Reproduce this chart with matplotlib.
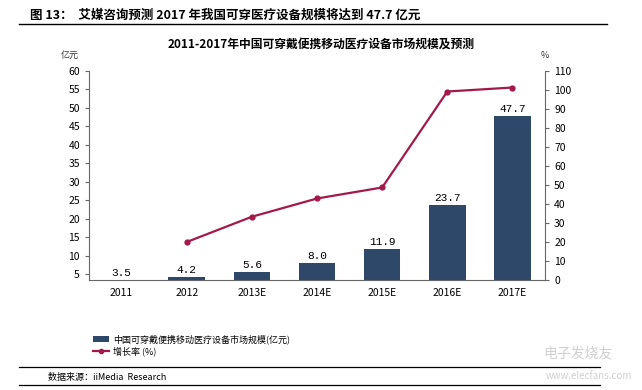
import numpy as np
import matplotlib.pyplot as plt
from matplotlib.lines import Line2D
from matplotlib.patches import Patch

plt.rcParams['font.family'] = ['Noto Sans CJK SC', 'DejaVu Sans']

years = ['2011', '2012', '2013E', '2014E', '2015E', '2016E', '2017E']
market = [3.5, 4.2, 5.6, 8.0, 11.9, 23.7, 47.7]
growth = [None, 20.0, 33.3, 42.9, 48.7, 99.2, 101.3]

bar_color = '#2e4869'
line_color = '#a3194b'

fig = plt.figure(figsize=(6.42, 3.90), dpi=100)
ax = fig.add_axes([0.1386, 0.282, 0.7104, 0.536])
x = np.arange(len(years))
ax.bar(x, market, width=0.56, color=bar_color, zorder=2)
for xi, v in zip(x, market):
    ax.text(xi, v + 0.6, f'{v:.1f}', ha='center', va='bottom', fontsize=8,
            family=['Liberation Mono', 'DejaVu Sans'])
ax.set_ylim(3.5, 60)
ax.set_yticks(range(5, 61, 5))
ax.set_xlim(-0.5, 6.5)
ax.set_xticks(x)
ax.set_xticklabels(years)
ax.tick_params(labelsize=7.5, length=3, color='#666666', width=0.8)
ax.tick_params(axis='x', length=0, pad=6)
for s in ['top', 'right']:
    ax.spines[s].set_visible(False)
for s in ['left', 'bottom']:
    ax.spines[s].set_color('#666666')

ax2 = ax.twinx()
gx = [xi for xi, g in zip(x, growth) if g is not None]
gy = [g for g in growth if g is not None]
ax2.plot(gx, gy, color=line_color, lw=1.6, marker='o', markersize=3.5, zorder=3)
ax2.set_ylim(0, 110)
ax2.set_yticks(range(0, 111, 10))
ax2.tick_params(labelsize=7.5, length=3, color='#666666', width=0.8)
for s in ['top', 'left', 'bottom']:
    ax2.spines[s].set_visible(False)
ax2.spines['right'].set_color('#666666')

# titles and units
fig.text(0.047, 0.962, '图 13：  艾媒咨询预测 2017 年我国可穿医疗设备规模将达到 47.7 亿元',
         fontsize=9, fontweight='bold', va='center')
fig.add_artist(Line2D([0.03, 0.945], [0.938, 0.938], color='black', lw=1))
fig.text(0.5, 0.886, '2011-2017年中国可穿戴便携移动医疗设备市场规模及预测',
         fontsize=8.5, fontweight='bold', ha='center', va='center')
fig.text(0.095, 0.858, '亿元', fontsize=6.5, ha='left', va='center', color='#333333')
fig.text(0.849, 0.858, '%', fontsize=6.5, ha='center', va='center', color='#333333')

handles = [Patch(facecolor=bar_color, edgecolor='none'),
           Line2D([0], [0], color=line_color, lw=1.6, marker='o', markersize=3)]
labels = ['中国可穿戴便携移动医疗设备市场规模(亿元)', '增长率 (%)']
fig.legend(handles, labels, loc='upper left', bbox_to_anchor=(0.135, 0.16 + 0.0),
           bbox_transform=fig.transFigure, frameon=False, fontsize=6.5,
           handlelength=1.8, handletextpad=0.4, labelspacing=0.3, borderpad=0)
fig.legends[0].set_bbox_to_anchor((0.138, 0.155), transform=fig.transFigure)

fig.add_artist(Line2D([0.03, 0.935], [0.059, 0.059], color='black', lw=0.9))
fig.text(0.075, 0.031, '数据来源：iiMedia  Research', fontsize=6.5, va='center')
fig.add_artist(Line2D([0.03, 0.935], [0.013, 0.013], color='black', lw=0.9))

# watermark
fig.text(0.955, 0.095, '电子发烧友', fontsize=10, ha='right', va='center', color='#d0d0d0')
fig.text(0.985, 0.035, 'www.elecfans.com', fontsize=7, ha='right', va='center', color='#d0d0d0')

fig.savefig('out.png', dpi=100)
